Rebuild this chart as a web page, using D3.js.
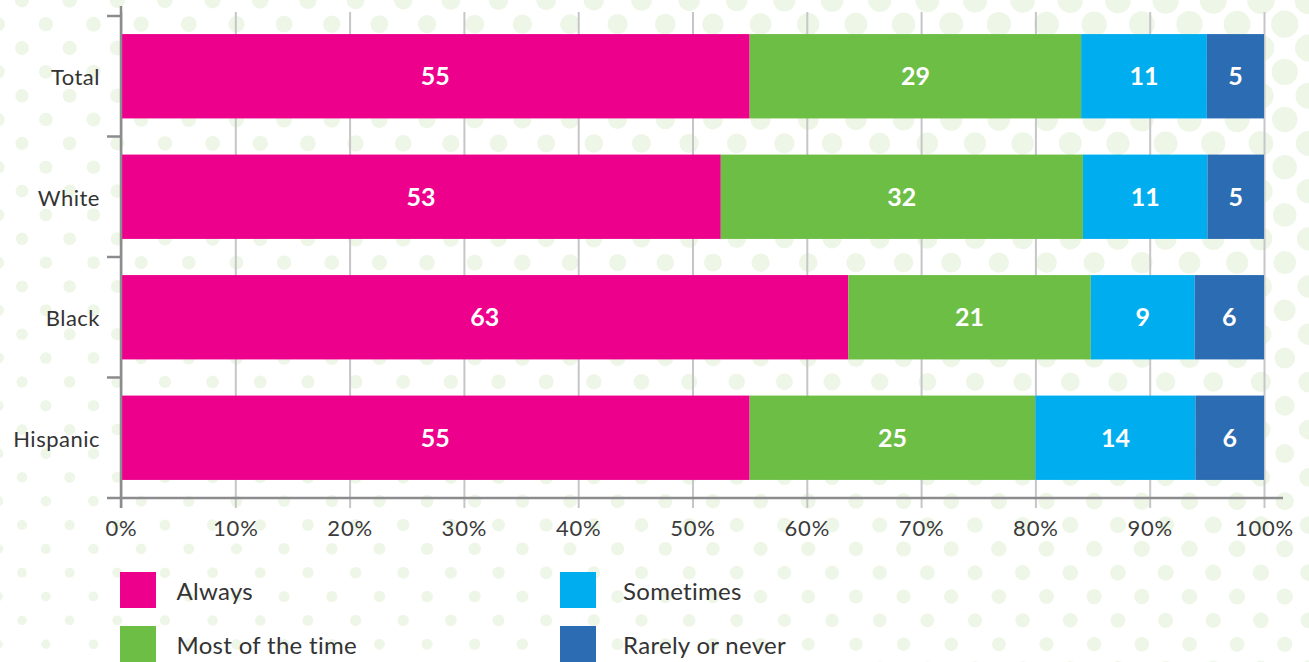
<!DOCTYPE html>
<html>
<head>
<meta charset="utf-8">
<script src="https://cdn.jsdelivr.net/npm/d3@7"></script>
<style>
  html, body { margin: 0; padding: 0; background: #ffffff; }
  svg { display: block; }
</style>
</head>
<body>
<svg id="chart" width="1309" height="662"></svg>
<script>
// ---------------- data ----------------
const categories = ["Total", "White", "Black", "Hispanic"];
const seriesNames = ["Always", "Most of the time", "Sometimes", "Rarely or never"];
const always = [55, 53, 63, 55];
const mostOfTheTime = [29, 32, 21, 25];
const sometimes = [11, 11, 9, 14];
const rarelyOrNever = [5, 5, 6, 6];
const xTickValues = [0, 0.1, 0.2, 0.3, 0.4, 0.5, 0.6, 0.7, 0.8, 0.9, 1.0];
const seriesColors = ["#EC008C", "#6DBE45", "#00AEEF", "#2B6CB2"];

// ---------------- setup ----------------
const W = 1309, H = 662;
const svg = d3.select("#chart");
const FONT = "Lato, 'Open Sans', sans-serif";

// decorative halftone dot background
const bg = svg.append("g").attr("class", "bg");
const dotDx = 47.65, dotDy = 23.85;
const dots = [];
for (let j = 0; j * dotDy < H + 20; j++) {
  const cy = 0.3 + j * dotDy;
  const off = (j % 2 === 0) ? 22 : -1.8;
  for (let cx = off; cx < W + 20; cx += dotDx) {
    const fx = Math.max(0, cx) / W, fy = 1 - Math.min(H, Math.max(0, cy)) / H;
    const r = 4.5 + fx * (3 + 4 * fy) + 2.5 * fy;
    dots.push({ cx, cy, r });
  }
}
bg.selectAll("circle").data(dots).join("circle")
  .attr("cx", d => d.cx).attr("cy", d => d.cy).attr("r", d => d.r)
  .attr("fill", "#eef6e8");

// rows for stacking
const rows = categories.map((c, i) => ({
  category: c,
  "Always": always[i],
  "Most of the time": mostOfTheTime[i],
  "Sometimes": sometimes[i],
  "Rarely or never": rarelyOrNever[i]
}));
const stacked = d3.stack().keys(seriesNames).offset(d3.stackOffsetExpand)(rows);

// scales
const x = d3.scaleLinear().domain([0, 1]).range([121, 1264]);
const y = d3.scaleBand().domain(categories).range([16, 498])
  .paddingInner(0.3).paddingOuter(0.15);
const color = d3.scaleOrdinal().domain(seriesNames).range(seriesColors);

// gridlines (light) extending below the axis as ticks
const grid = svg.append("g").attr("transform", "translate(0,508)")
  .call(d3.axisBottom(x).tickValues(xTickValues).tickSize(-496).tickFormat(""));
grid.select(".domain").remove();
grid.selectAll(".tick line").attr("stroke", "#c6c6c9").attr("stroke-width", 2);

// bars
const layers = svg.append("g").selectAll("g").data(stacked).join("g")
  .attr("fill", d => color(d.key));
layers.selectAll("rect").data(d => d).join("rect")
  .attr("x", d => x(d[0]))
  .attr("width", d => x(d[1]) - x(d[0]))
  .attr("y", d => y(d.data.category))
  .attr("height", y.bandwidth());

// value labels
const labelsG = svg.append("g");
stacked.forEach(layer => {
  labelsG.selectAll(null).data(layer).join("text")
    .attr("x", d => (x(d[0]) + x(d[1])) / 2)
    .attr("y", d => y(d.data.category) + y.bandwidth() / 2)
    .attr("dy", "0.36em")
    .attr("text-anchor", "middle")
    .attr("fill", "#ffffff")
    .attr("font-family", FONT)
    .attr("font-weight", 700)
    .attr("font-size", 25)
    .text(d => d.data[layer.key]);
});

// bottom axis (labels)
const xAxis = svg.append("g").attr("transform", "translate(0,498)")
  .call(d3.axisBottom(x).tickValues(xTickValues).tickFormat(d3.format(".0%")).tickSize(0).tickSizeOuter(0));
xAxis.select(".domain").remove();
xAxis.selectAll(".tick text")
  .attr("y", 38).attr("dy", 0)
  .attr("fill", "#3b3b3b")
  .attr("font-family", FONT)
  .attr("font-weight", 400)
  .attr("font-size", 22)
  .attr("letter-spacing", 0.8);

// axis lines
const axisColor = "#8c8c8e";
svg.append("line").attr("x1", 107).attr("x2", 1283).attr("y1", 498).attr("y2", 498)
  .attr("stroke", axisColor).attr("stroke-width", 2.5);
svg.append("line").attr("x1", x(0)).attr("x2", x(0)).attr("y1", 6).attr("y2", 508)
  .attr("stroke", axisColor).attr("stroke-width", 2.5);

// left axis: category labels and band-boundary ticks
const bounds = categories.map(c => y(c) - y.step() * y.paddingInner() / 2);
svg.append("g").selectAll("line").data(bounds).join("line")
  .attr("x1", 107).attr("x2", x(0)).attr("y1", d => d).attr("y2", d => d)
  .attr("stroke", axisColor).attr("stroke-width", 2.5);

svg.append("g").selectAll("text").data(categories).join("text")
  .attr("x", 100)
  .attr("y", d => y(d) + y.bandwidth() / 2)
  .attr("dy", "0.4em")
  .attr("text-anchor", "end")
  .attr("fill", "#333333")
  .attr("font-family", FONT)
  .attr("font-weight", 400)
  .attr("font-size", 22)
  .attr("letter-spacing", 0.5)
  .text(d => d);

// legend
const legendPos = [[120, 572, 56.5], [120, 626, 56.5], [560, 572, 63], [560, 626, 63]];
const legend = svg.append("g").selectAll("g").data(seriesNames).join("g")
  .attr("transform", (d, i) => `translate(${legendPos[i][0]},${legendPos[i][1]})`);
legend.append("rect").attr("width", 36).attr("height", 36).attr("fill", d => color(d));
legend.append("text")
  .attr("x", (d, i) => legendPos[i][2]).attr("y", 28)
  .attr("fill", "#333333")
  .attr("font-family", FONT)
  .attr("font-weight", 400)
  .attr("font-size", 24)
  .attr("letter-spacing", 0.3)
  .text(d => d);
</script>
</body>
</html>
